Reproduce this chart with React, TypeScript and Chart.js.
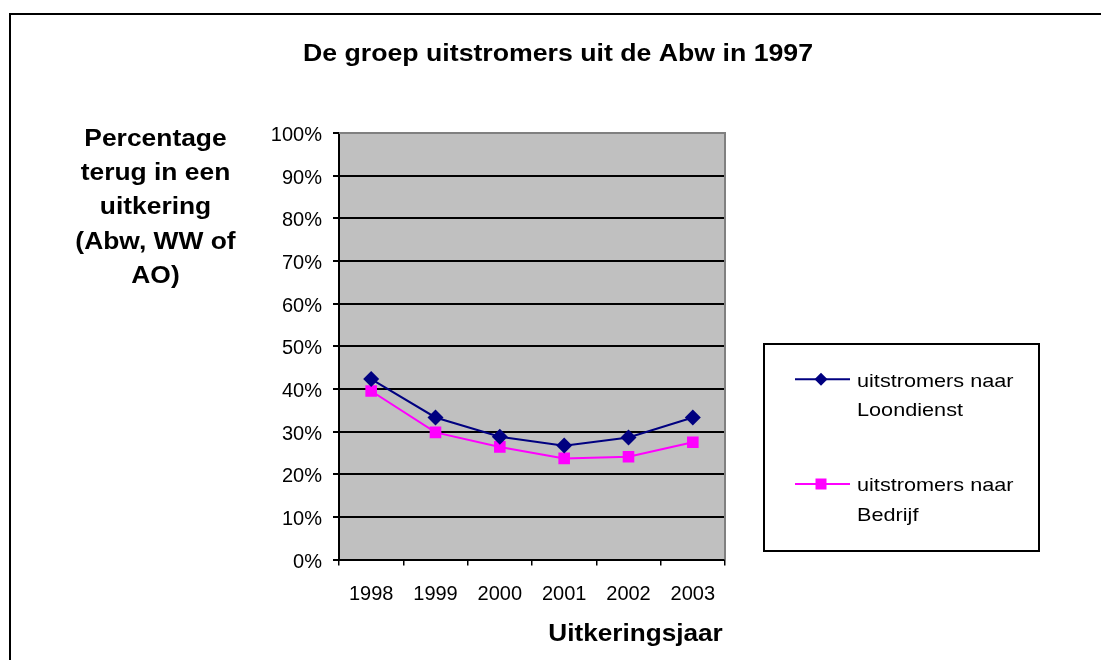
import React, { useEffect, useRef } from 'react';
import { Chart, registerables } from 'chart.js';

Chart.register(...registerables);

const categories = ['1998', '1999', '2000', '2001', '2002', '2003'];
const loondienst = [42.3, 33.3, 28.8, 26.7, 28.6, 33.3];
const bedrijf = [39.5, 29.8, 26.4, 23.7, 24.1, 27.5];
const seriesLabels = [
  ['uitstromers naar', 'Loondienst'],
  ['uitstromers naar', 'Bedrijf'],
];
const seriesColors = ['#000080', '#FF00FF'];
const seriesMarkers = ['diamond', 'square'];
const chartTitle = 'De groep uitstromers uit de Abw in 1997';
const yTitleLines = ['Percentage', 'terug in een', 'uitkering', '(Abw, WW of', 'AO)'];
const xTitle = 'Uitkeringsjaar';
const yMin = 0;
const yMax = 100;
const yStep = 10;

const FONT = '"Liberation Sans", Arial, sans-serif';

function stretchText(
  ctx: CanvasRenderingContext2D,
  text: string,
  x: number,
  y: number,
  font: string,
  align: CanvasTextAlign,
  sx: number
) {
  ctx.save();
  ctx.translate(x, y);
  ctx.scale(sx, 1);
  ctx.font = font;
  ctx.fillStyle = '#000';
  ctx.textAlign = align;
  ctx.textBaseline = 'alphabetic';
  ctx.fillText(text, 0, 0);
  ctx.restore();
}

function drawMarker(ctx: CanvasRenderingContext2D, kind: string, x: number, y: number, color: string) {
  ctx.save();
  ctx.fillStyle = color;
  ctx.beginPath();
  if (kind === 'diamond') {
    const r = 6.5;
    ctx.moveTo(x, y - r);
    ctx.lineTo(x + r, y);
    ctx.lineTo(x, y + r);
    ctx.lineTo(x - r, y);
    ctx.closePath();
  } else {
    const s = 11;
    ctx.rect(x - s / 2, y - s / 2, s, s);
  }
  ctx.fill();
  ctx.restore();
}

const decorPlugin = {
  id: 'decor',
  beforeDraw(chart: any) {
    const { ctx, chartArea } = chart;
    ctx.save();
    ctx.fillStyle = '#fff';
    ctx.fillRect(0, 0, chart.width, chart.height);
    ctx.strokeStyle = '#000';
    ctx.lineWidth = 2;
    ctx.strokeRect(10, 14, 1300, 900);
    ctx.fillStyle = '#C0C0C0';
    ctx.fillRect(chartArea.left, chartArea.top, chartArea.right - chartArea.left, chartArea.bottom - chartArea.top);
    ctx.restore();
  },
  beforeDatasetsDraw(chart: any) {
    const { ctx, chartArea } = chart;
    ctx.save();
    ctx.strokeStyle = '#808080';
    ctx.lineWidth = 2;
    ctx.beginPath();
    ctx.moveTo(chartArea.left, chartArea.top);
    ctx.lineTo(chartArea.right, chartArea.top);
    ctx.lineTo(chartArea.right, chartArea.bottom);
    ctx.stroke();
    ctx.restore();
  },
  afterDraw(chart: any) {
    const { ctx } = chart;
    // Title
    stretchText(ctx, chartTitle, 558, 61, `bold 23px ${FONT}`, 'center', 1.16);
    // Y title
    const yBase = [145.7, 180, 214.3, 248.6, 283];
    yTitleLines.forEach((line, i) => {
      stretchText(ctx, line, 155.5, yBase[i], `bold 24px ${FONT}`, 'center', 1.1);
    });
    // X title
    stretchText(ctx, xTitle, 635.5, 641, `bold 24px ${FONT}`, 'center', 1.09);
    // Legend
    ctx.save();
    ctx.strokeStyle = '#000';
    ctx.lineWidth = 2;
    ctx.strokeRect(764, 344, 275, 207);
    ctx.restore();
    const entryY = [379.3, 484];
    seriesLabels.forEach((lines, i) => {
      const y = entryY[i];
      ctx.save();
      ctx.strokeStyle = seriesColors[i];
      ctx.lineWidth = 2;
      ctx.beginPath();
      ctx.moveTo(795, y);
      ctx.lineTo(850, y);
      ctx.stroke();
      ctx.restore();
      drawMarker(ctx, seriesMarkers[i], 821, y, seriesColors[i]);
      lines.forEach((t, j) => {
        stretchText(ctx, t, 857, y + 7.3 + j * 29.5, `19px ${FONT}`, 'left', 1.14);
      });
    });
  },
};

export default function App() {
  const canvasRef = useRef<HTMLCanvasElement | null>(null);

  useEffect(() => {
    const canvas = canvasRef.current;
    if (!canvas) return;
    const chart = new Chart(canvas, {
      type: 'line',
      data: {
        labels: categories,
        datasets: [
          {
            label: seriesLabels[0].join(' '),
            data: loondienst,
            borderColor: seriesColors[0],
            backgroundColor: seriesColors[0],
            borderWidth: 2,
            pointStyle: 'rectRot',
            pointRadius: 8,
            pointBorderWidth: 0,
            tension: 0,
          },
          {
            label: seriesLabels[1].join(' '),
            data: bedrijf,
            borderColor: seriesColors[1],
            backgroundColor: seriesColors[1],
            borderWidth: 2,
            pointStyle: 'rect',
            pointRadius: 8.2,
            pointBorderWidth: 0,
            tension: 0,
          },
        ],
      },
      options: {
        responsive: false,
        animation: false,
        devicePixelRatio: 1,
        layout: { padding: { left: 0, top: 133, right: 376, bottom: 0 } },
        plugins: {
          legend: { display: false },
          title: { display: false },
          tooltip: { enabled: false },
        },
        scales: {
          x: {
            type: 'category',
            offset: true,
            afterFit: (scale: any) => {
              scale.height = 100.5;
            },
            grid: {
              offset: true,
              drawOnChartArea: false,
              drawTicks: true,
              tickLength: 6,
              color: '#000',
              lineWidth: 1.5,
            },
            border: { color: '#000', width: 2 },
            ticks: {
              color: '#000',
              padding: 17,
              maxRotation: 0,
              font: { family: FONT, size: 20 },
            },
          },
          y: {
            min: yMin,
            max: yMax,
            afterFit: (scale: any) => {
              scale.width = 339;
            },
            grid: {
              color: '#000',
              lineWidth: 2,
              tickLength: 6,
              tickColor: '#000',
            },
            border: { color: '#000', width: 2 },
            ticks: {
              stepSize: yStep,
              color: '#000',
              padding: 11,
              labelOffset: 2.5,
              font: { family: FONT, size: 20 },
              callback: (v: any) => `${v}%`,
            },
          },
        },
      },
      plugins: [decorPlugin],
    });
    return () => chart.destroy();
  }, []);

  return (
    <div style={{ position: 'absolute', left: 0, top: 0, width: 1101, height: 660 }}>
      <canvas ref={canvasRef} width={1101} height={660} style={{ display: 'block' }} />
    </div>
  );
}
